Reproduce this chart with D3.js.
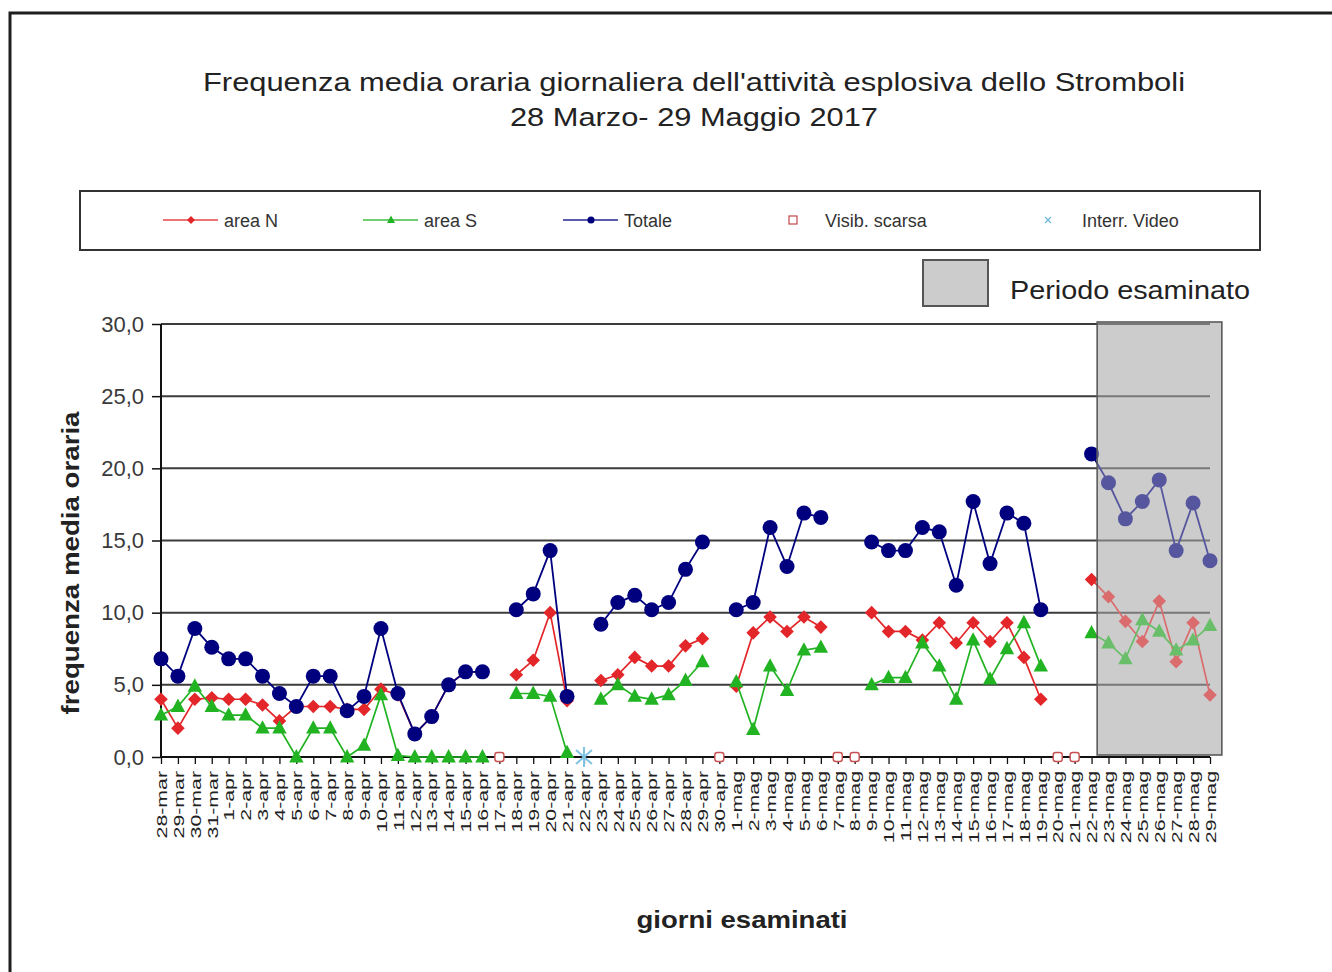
<!DOCTYPE html>
<html>
<head>
<meta charset="utf-8">
<script src="https://cdn.jsdelivr.net/npm/d3@7"></script>
<style>
  html, body { margin: 0; padding: 0; background: #fff; }
  svg { display: block; font-family: "Liberation Sans", Arial, sans-serif; }
</style>
</head>
<body>
<svg id="chart" width="1332" height="972"></svg>
<script>
// ---------- DATA ----------
const days = [
  "28-mar","29-mar","30-mar","31-mar",
  "1-apr","2-apr","3-apr","4-apr","5-apr","6-apr","7-apr","8-apr","9-apr","10-apr",
  "11-apr","12-apr","13-apr","14-apr","15-apr","16-apr","17-apr","18-apr","19-apr","20-apr",
  "21-apr","22-apr","23-apr","24-apr","25-apr","26-apr","27-apr","28-apr","29-apr","30-apr",
  "1-mag","2-mag","3-mag","4-mag","5-mag","6-mag","7-mag","8-mag","9-mag","10-mag",
  "11-mag","12-mag","13-mag","14-mag","15-mag","16-mag","17-mag","18-mag","19-mag","20-mag",
  "21-mag","22-mag","23-mag","24-mag","25-mag","26-mag","27-mag","28-mag","29-mag"
];
const areaN = [
  4.0,2.0,4.0,4.1,4.0,4.0,3.6,2.5,3.5,3.5,3.5,3.3,3.3,4.7,4.3,1.6,2.8,5.0,5.9,5.9,
  null,5.7,6.7,10.0,3.9,null,5.3,5.7,6.9,6.3,6.3,7.7,8.2,null,
  4.9,8.6,9.7,8.7,9.7,9.0,null,null,
  10.0,8.7,8.7,8.1,9.3,7.9,9.3,8.0,9.3,6.9,4.0,null,null,
  12.3,11.1,9.4,8.0,10.8,6.6,9.3,4.3
];
const areaS = [
  2.9,3.5,4.9,3.5,2.9,2.9,2.0,2.0,0.0,2.0,2.0,0.0,0.8,4.3,0.1,0.0,0.0,0.0,0.0,0.0,
  null,4.4,4.4,4.2,0.3,null,4.0,5.0,4.2,4.0,4.3,5.3,6.6,null,
  5.2,1.9,6.3,4.6,7.4,7.6,null,null,
  5.0,5.5,5.5,7.9,6.3,4.0,8.1,5.4,7.5,9.3,6.3,null,null,
  8.6,7.9,6.8,9.5,8.7,7.4,8.1,9.1
];
const totale = [
  6.8,5.6,8.9,7.6,6.8,6.8,5.6,4.4,3.5,5.6,5.6,3.2,4.2,8.9,4.4,1.6,2.8,5.0,5.9,5.9,
  null,10.2,11.3,14.3,4.2,null,9.2,10.7,11.2,10.2,10.7,13.0,14.9,null,
  10.2,10.7,15.9,13.2,16.9,16.6,null,null,
  14.9,14.3,14.3,15.9,15.6,11.9,17.7,13.4,16.9,16.2,10.2,null,null,
  21.0,19.0,16.5,17.7,19.2,14.3,17.6,13.6
];
// "Visib. scarsa" and "Interr. Video" markers are plotted at 0 on their days
const visibScarsa = ["17-apr","30-apr","7-mag","8-mag","20-mag","21-mag"];
const interrVideo = ["22-apr"];
const periodoStart = "22-mag", periodoEnd = "29-mag";
const yTicks = [0,5,10,15,20,25,30];

const titleLines = ["Frequenza media oraria giornaliera dell'attività esplosiva dello Stromboli",
                    "28 Marzo- 29 Maggio 2017"];

// ---------- SCALES ----------
const svg = d3.select("#chart");
const x = d3.scalePoint().domain(days).range([161, 1210]);
const step = x.step();
const y = d3.scaleLinear().domain([0, 30]).range([757, 324]);

const cN = "#e3262a", cS = "#22b322", cT = "#00007f";

// outer frame
svg.append("rect").attr("x", 10).attr("y", 13).attr("width", 1400).attr("height", 1000)
  .attr("fill", "#fff").attr("stroke", "#1e1e1e").attr("stroke-width", 3);

// title
svg.selectAll("text.title").data(titleLines).join("text")
  .attr("x", 694).attr("y", (d, i) => 91 + i * 35)
  .attr("text-anchor", "middle").attr("font-size", 26).attr("fill", "#222")
  .attr("textLength", (d, i) => i === 0 ? 982 : 368).attr("lengthAdjust", "spacingAndGlyphs")
  .text(d => d);

// legend box
const lg = svg.append("g");
lg.append("rect").attr("x", 80).attr("y", 191).attr("width", 1180).attr("height", 59)
  .attr("fill", "#fff").attr("stroke", "#333").attr("stroke-width", 2);

function diamond(s) { return `M0,${-s}L${s},0L0,${s}L${-s},0Z`; }
function triangle(s) { return `M0,${-s * 1.1}L${s},${s * 0.75}L${-s},${s * 0.75}Z`; }

const legendItems = [
  { label: "area N", x0: 163, type: "N" },
  { label: "area S", x0: 363, type: "S" },
  { label: "Totale", x0: 563, type: "T" },
  { label: "Visib. scarsa", x0: 785, type: "V" },
  { label: "Interr. Video", x0: 1042, type: "I" }
];
legendItems.forEach(it => {
  const cy = 220;
  if (it.type === "N" || it.type === "S" || it.type === "T") {
    const c = it.type === "N" ? cN : it.type === "S" ? cS : cT;
    lg.append("line").attr("x1", it.x0).attr("x2", it.x0 + 55).attr("y1", cy).attr("y2", cy)
      .attr("stroke", c).attr("stroke-width", 1.5).attr("opacity", 0.85);
    const m = lg.append("path").attr("transform", `translate(${it.x0 + 28},${cy})`).attr("fill", c);
    if (it.type === "N") m.attr("d", diamond(4));
    else if (it.type === "S") m.attr("d", triangle(4));
    else m.attr("d", d3.symbol(d3.symbolCircle, 40)());
    lg.append("text").attr("x", it.x0 + 61).attr("y", cy + 7).attr("font-size", 18).attr("fill", "#333")
      .text(it.label);
  } else if (it.type === "V") {
    lg.append("rect").attr("x", it.x0 + 4).attr("y", cy - 4).attr("width", 8).attr("height", 8)
      .attr("fill", "#fff").attr("stroke", "#c04848").attr("stroke-width", 1.2);
    lg.append("text").attr("x", it.x0 + 40).attr("y", cy + 7).attr("font-size", 18).attr("fill", "#333")
      .text(it.label);
  } else {
    lg.append("path").attr("transform", `translate(${it.x0 + 6},${cy})`)
      .attr("d", "M-3,-3L3,3M-3,3L3,-3").attr("stroke", "#70b8d8").attr("stroke-width", 1.3);
    lg.append("text").attr("x", it.x0 + 40).attr("y", cy + 7).attr("font-size", 18).attr("fill", "#333")
      .text(it.label);
  }
});

// periodo esaminato legend
svg.append("rect").attr("x", 923).attr("y", 260).attr("width", 65).attr("height", 46)
  .attr("fill", "#cccccc").attr("stroke", "#555").attr("stroke-width", 2);
svg.append("text").attr("x", 1010).attr("y", 299).attr("font-size", 26).attr("fill", "#222")
  .attr("textLength", 240).attr("lengthAdjust", "spacingAndGlyphs").text("Periodo esaminato");

// shaded period (base)
const bx0 = x(periodoStart) + step * 0.33, bx1 = x(periodoEnd) + step * 0.7;
svg.append("rect").attr("x", bx0).attr("y", 322).attr("width", bx1 - bx0).attr("height", 755 - 322)
  .attr("fill", "#cccccc");

// grid lines
svg.append("g").selectAll("line").data(yTicks.filter(t => t > 0)).join("line")
  .attr("x1", 161).attr("x2", 1210).attr("y1", d => y(d)).attr("y2", d => y(d))
  .attr("stroke", "#3c3c3c").attr("stroke-width", 2);

// y axis
const yAxis = svg.append("g").attr("transform", "translate(161,0)")
  .call(d3.axisLeft(y).tickValues(yTicks).tickSize(9).tickPadding(8)
    .tickFormat(d => d3.format(".1f")(d).replace(".", ",")));
yAxis.select(".domain").attr("stroke", "#111").attr("stroke-width", 2).attr("d", `M0,${y(30)}V${y(0)}`);
yAxis.selectAll(".tick line").attr("stroke", "#111").attr("stroke-width", 1.5);
yAxis.selectAll(".tick text").attr("font-size", 22).attr("fill", "#3a3a3a")
  .attr("font-family", "'Liberation Sans', Arial, sans-serif");

// x axis
const xAxis = svg.append("g").attr("transform", `translate(0,${y(0)})`)
  .call(d3.axisBottom(x).tickSize(7).tickSizeOuter(0));
xAxis.select(".domain").attr("stroke", "#111").attr("stroke-width", 2)
  .attr("d", `M161,0H1210`);
xAxis.selectAll(".tick line").attr("stroke", "#111").attr("stroke-width", 1.3);
xAxis.selectAll(".tick text")
  .attr("font-size", 15).attr("fill", "#222").attr("font-family", "'Liberation Sans', Arial, sans-serif")
  .attr("text-anchor", "end").attr("dy", "0.35em").attr("y", 0)
  .attr("transform", "translate(0,14) rotate(-90) scale(1.42,1)");

// series
const series = [
  { vals: areaN, color: cN, shape: "N" },
  { vals: areaS, color: cS, shape: "S" },
  { vals: totale, color: cT, shape: "T" }
];
const line = d3.line().defined(d => d.v != null).x(d => x(d.k)).y(d => y(d.v));
series.forEach(s => {
  const pts = days.map((k, i) => ({ k, v: s.vals[i] }));
  svg.append("path").datum(pts).attr("d", line).attr("fill", "none")
    .attr("stroke", s.color).attr("stroke-width", s.shape === "T" ? 1.8 : 1.7);
  const g = svg.append("g");
  const p = pts.filter(d => d.v != null);
  if (s.shape === "T") {
    g.selectAll("circle").data(p).join("circle")
      .attr("cx", d => x(d.k)).attr("cy", d => y(d.v)).attr("r", 7.5).attr("fill", s.color);
  } else {
    g.selectAll("path").data(p).join("path")
      .attr("transform", d => `translate(${x(d.k)},${y(d.v)})`)
      .attr("d", s.shape === "N" ? diamond(6.8) : triangle(7.2)).attr("fill", s.color);
  }
});

// visib. scarsa markers
svg.append("g").selectAll("rect").data(visibScarsa).join("rect")
  .attr("x", d => x(d) - 4.5).attr("y", y(0) - 4.5).attr("width", 9).attr("height", 9).attr("rx", 2.5)
  .attr("fill", "#fff").attr("stroke", "#c85050").attr("stroke-width", 1.4);

// interr. video markers
svg.append("g").selectAll("path").data(interrVideo).join("path")
  .attr("transform", d => `translate(${x(d)},${y(0)})`)
  .attr("d", "M0,-10V10M-8,-7L8,7M-8,7L8,-7").attr("stroke", "#80c4e4").attr("stroke-width", 2)
  .attr("fill", "none");

// shaded period overlay (fades marks) + border
svg.append("rect").attr("x", bx0).attr("y", 322).attr("width", bx1 - bx0).attr("height", 755 - 322)
  .attr("fill", "#cccccc").attr("opacity", 0.42);
svg.append("rect").attr("x", bx0).attr("y", 322).attr("width", bx1 - bx0).attr("height", 755 - 322)
  .attr("fill", "none").attr("stroke", "#5a5a5a").attr("stroke-width", 1.6);

// axis titles
svg.append("text").attr("transform", "translate(79,563) rotate(-90)").attr("text-anchor", "middle")
  .attr("font-size", 23).attr("font-weight", "bold").attr("fill", "#222")
  .attr("textLength", 303).attr("lengthAdjust", "spacingAndGlyphs").text("frequenza media oraria");
svg.append("text").attr("x", 742).attr("y", 928).attr("text-anchor", "middle")
  .attr("font-size", 24).attr("font-weight", "bold").attr("fill", "#222")
  .attr("textLength", 211).attr("lengthAdjust", "spacingAndGlyphs").text("giorni esaminati");
</script>
</body>
</html>
